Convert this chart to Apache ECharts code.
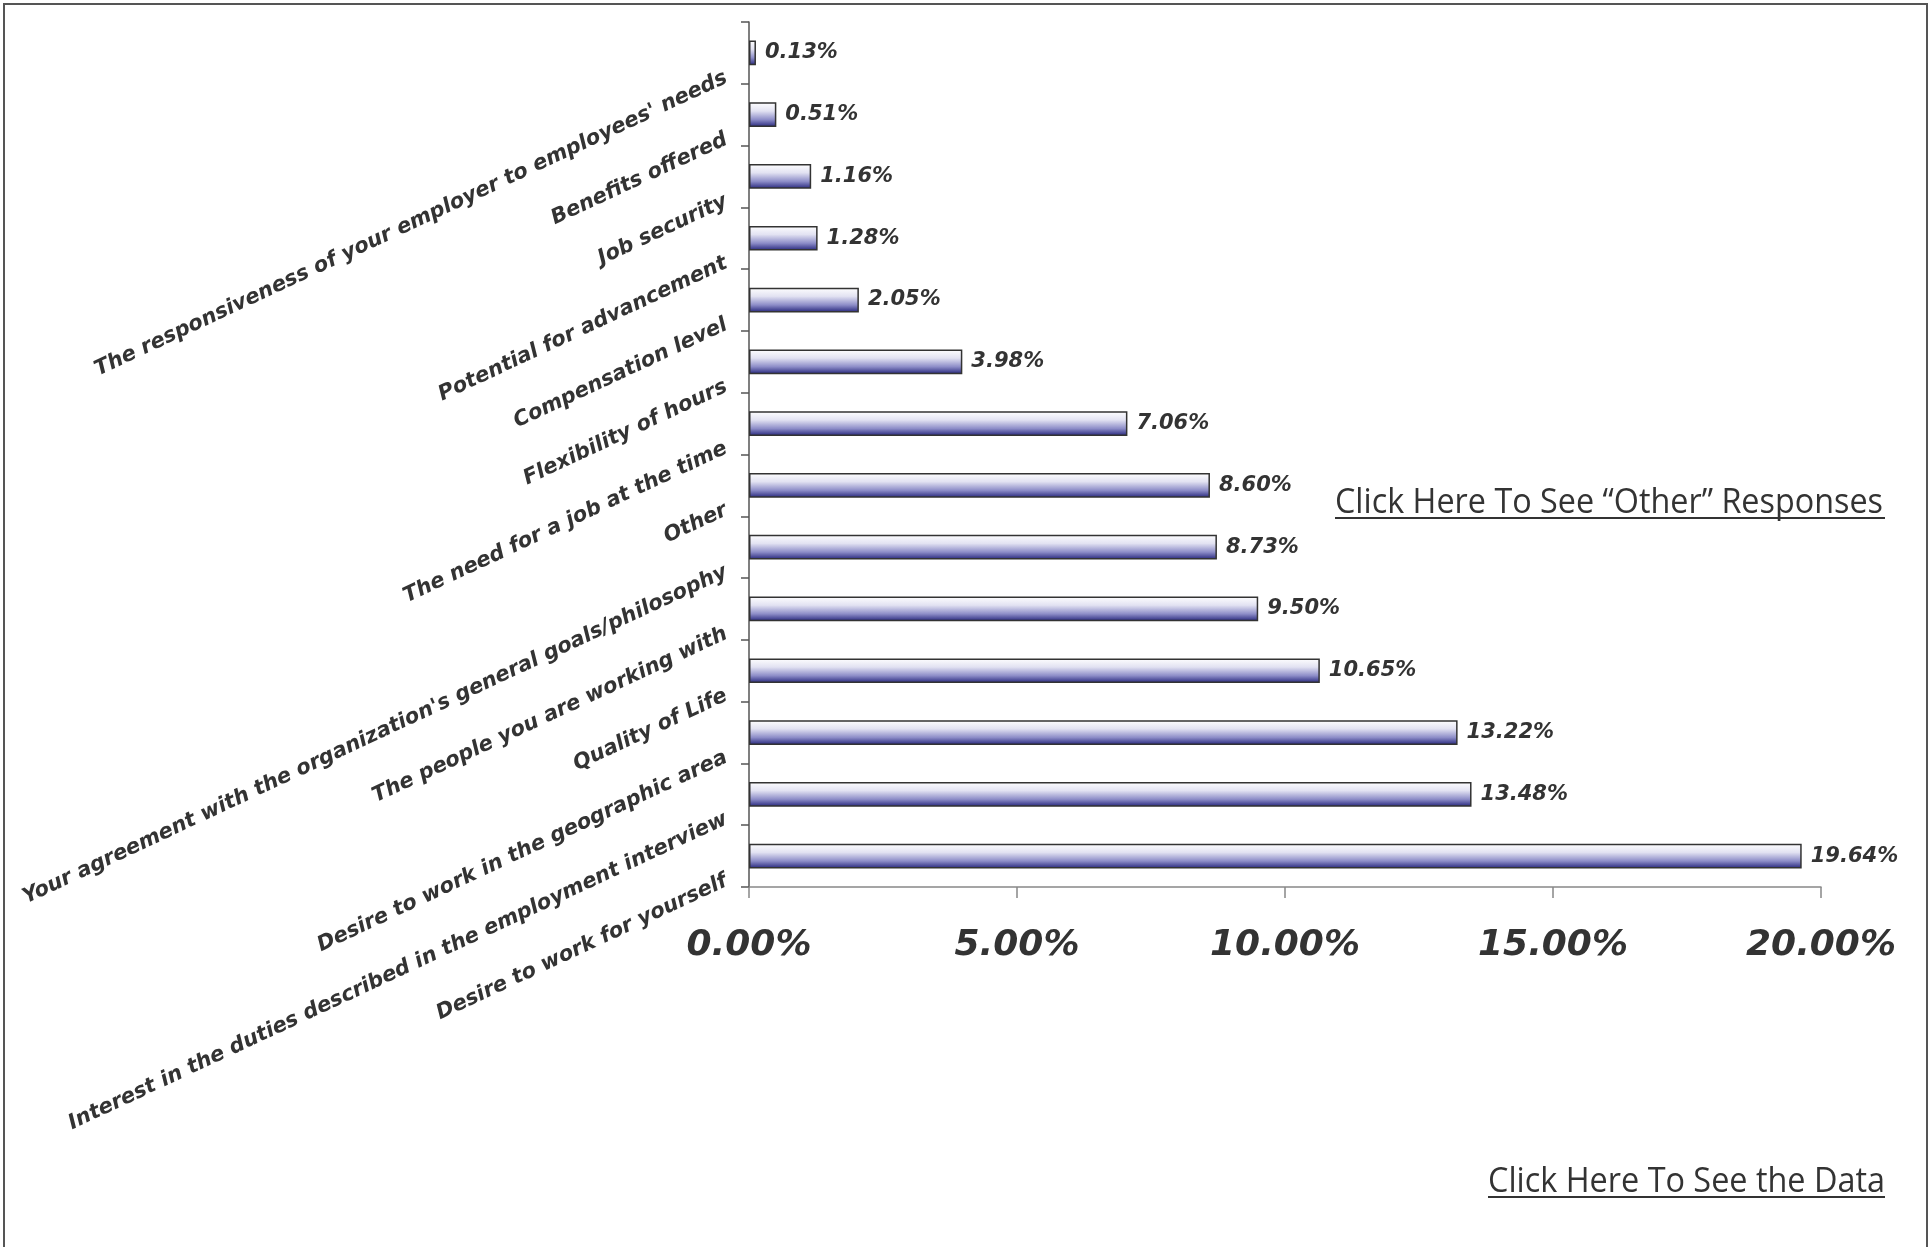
<!DOCTYPE html>
<html>
<head>
<meta charset="utf-8">
<script src="https://cdn.jsdelivr.net/npm/echarts@6/dist/echarts.min.js"></script>
<style>
html,body{margin:0;padding:0;background:#fff;}
#chart{width:1932px;height:1247px;}
</style>
</head>
<body>
<div id="chart"></div>
<script>
const categories = [
  "The responsiveness of your employer to employees' needs",
  "Benefits offered",
  "Job security",
  "Potential for advancement",
  "Compensation level",
  "Flexibility of hours",
  "The need for a job at the time",
  "Other",
  "Your agreement with the organization's general goals/philosophy",
  "The people you are working with",
  "Quality of Life",
  "Desire to work in the geographic area",
  "Interest in the duties described in the employment interview",
  "Desire to work for yourself"
];
const values = [0.13, 0.51, 1.16, 1.28, 2.05, 3.98, 7.06, 8.60, 8.73, 9.50, 10.65, 13.22, 13.48, 19.64];
const xTicks = [0, 5, 10, 15, 20];
const linkOther = "Click Here To See \u201COther\u201D Responses";
const linkData = "Click Here To See the Data";

const chart = echarts.init(document.getElementById('chart'), null, {renderer: 'canvas'});

function fitScale(text, font, target) {
  const c = document.createElement('canvas').getContext('2d');
  c.font = font;
  return target / c.measureText(text).width;
}
const linkFont = 'normal 35px "Open Sans"';
const sOther = fitScale(linkOther, linkFont, 548);
const sData = fitScale(linkData, linkFont, 397);

const option = {
  animation: false,
  backgroundColor: '#ffffff',
  grid: {left: 749, right: 111, top: 22, bottom: 360, containLabel: false},
  xAxis: {
    type: 'value',
    min: xTicks[0],
    max: xTicks[xTicks.length - 1],
    interval: 5,
    splitLine: {show: false},
    axisLine: {show: true, lineStyle: {color: '#888', width: 1.5}},
    axisTick: {show: true, length: 11, lineStyle: {color: '#888', width: 1.5}},
    axisLabel: {
      margin: 41,
      color: '#333',
      fontFamily: 'DejaVu Sans',
      fontWeight: 'bold',
      fontStyle: 'italic',
      fontSize: 36,
      formatter: v => v.toFixed(2) + '%'
    }
  },
  yAxis: {
    type: 'category',
    inverse: true,
    data: categories,
    axisLine: {show: true, lineStyle: {color: '#555', width: 1.5}},
    axisTick: {show: true, length: 8, lineStyle: {color: '#555', width: 1.5}},
    axisLabel: {
      interval: 0,
      rotate: 25,
      margin: 34,
      color: '#333',
      fontFamily: 'DejaVu Sans',
      fontWeight: 'bold',
      fontStyle: 'italic',
      fontSize: 21,
      verticalAlign: 'top',
      padding: [16, 0, 0, 0]
    }
  },
  series: [{
    type: 'bar',
    data: values,
    barWidth: '40%',
    itemStyle: {
      borderColor: '#333',
      borderWidth: 1.5,
      color: new echarts.graphic.LinearGradient(0, 0, 0, 1, [
        {offset: 0, color: '#ffffff'},
        {offset: 0.35, color: '#e2e2f2'},
        {offset: 0.7, color: '#8d8dc8'},
        {offset: 1, color: '#23237a'}
      ])
    },
    label: {
      show: true,
      position: 'right',
      distance: 9,
      color: '#333',
      fontFamily: 'DejaVu Sans',
      fontWeight: 'bold',
      fontStyle: 'italic',
      fontSize: 21,
      formatter: p => p.value.toFixed(2) + '%'
    }
  }],
  graphic: [
    {type: 'rect', shape: {x: 4, y: 4, width: 1923, height: 1260}, style: {fill: 'none', stroke: '#555', lineWidth: 2}, silent: true},
    {type: 'text', x: 1335, y: 521, scaleX: sOther, originX: 0,
      style: {text: linkOther, font: linkFont, fill: '#333', align: 'left', verticalAlign: 'bottom'}},
    {type: 'line', shape: {x1: 1335, y1: 518, x2: 1885, y2: 518}, style: {stroke: '#333', lineWidth: 2}},
    {type: 'text', x: 1488, y: 1200, scaleX: sData, originX: 0,
      style: {text: linkData, font: linkFont, fill: '#333', align: 'left', verticalAlign: 'bottom'}},
    {type: 'line', shape: {x1: 1488, y1: 1197, x2: 1885, y2: 1197}, style: {stroke: '#333', lineWidth: 2}}
  ]
};
chart.setOption(option);
</script>
</body>
</html>
